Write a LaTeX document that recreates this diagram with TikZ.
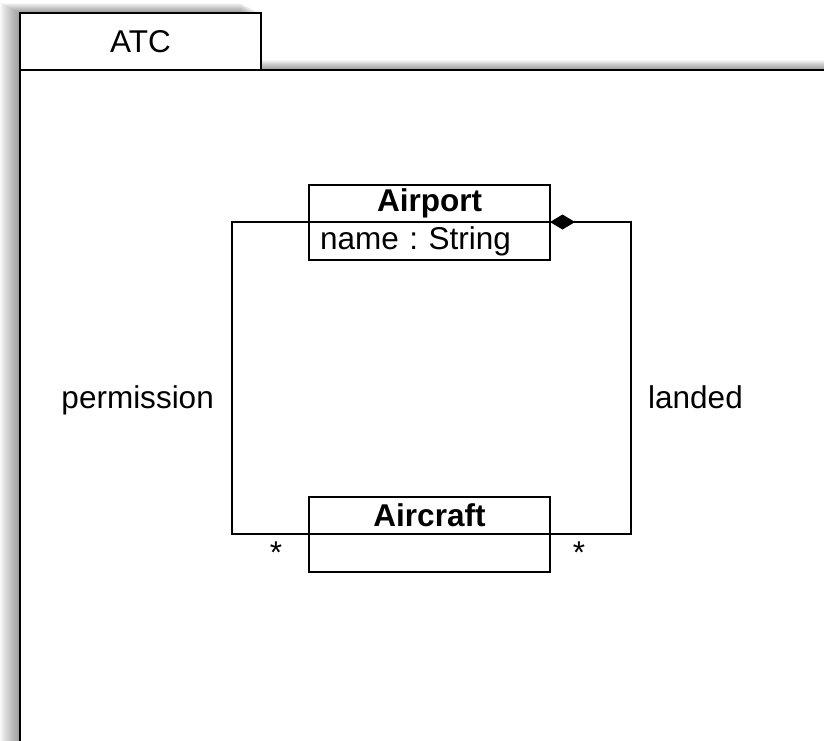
\documentclass[tikz,border=0pt]{standalone}
\usepackage{fontspec}
\setmainfont{Liberation Sans}
\usetikzlibrary{arrows.meta,positioning}

\begin{document}
\begin{tikzpicture}[
  x=1pt,y=-1pt,
  every node/.style={font=\fontsize{31.5}{36}\selectfont},
  pkgtab/.style={rectangle,draw,line width=2pt,fill=white,minimum width=241pt,minimum height=57pt,inner sep=0pt,outer sep=0pt},
  classhead/.style={rectangle,draw,line width=2pt,fill=white,minimum width=241pt,minimum height=37pt,inner sep=0pt,outer sep=0pt,font=\fontsize{31.5}{36}\selectfont\bfseries},
  classbody/.style={rectangle,draw,line width=2pt,fill=white,minimum width=241pt,minimum height=38pt,inner sep=0pt,outer sep=0pt,text width=219pt,align=left},
  assoc/.style={line width=2pt},
  rolelbl/.style={inner sep=0pt},
  mult/.style={inner sep=0pt,anchor=base}
]
\useasboundingbox (0,0) rectangle (824,740);

% soft shadow of the package frame
\foreach \s in {1,...,20}
  \fill[black,opacity=0.024] (20-\s,13-0.5*\s) -- (261-\s,13-0.5*\s) -- (261-\s,70-0.5*\s) -- (900,70-0.5*\s) -- (900,800) -- (20-\s,800) -- cycle;

% package frame
\draw[line width=2pt,fill=white] (20,70) rectangle (900,800);
\node[pkgtab,anchor=north west] (tab) at (20,13) {ATC};

% classes
\node[classhead] (airportHead) at (429.5,203.5) {Airport};
\node[classbody,below=0pt of airportHead] (airportBody) {\frenchspacing name : String};
\node[classhead] (aircraftHead) at (429.5,515.5) {Aircraft};
\node[classbody,below=0pt of aircraftHead] (aircraftBody) {};

% associations
\draw[assoc] (airportHead.south west) -- ++(-77,0) coordinate (permTop) |- (aircraftHead.south west);
\draw[assoc,{Diamond[length=25pt,width=15pt]}-] (airportHead.south east) -- ++(81,0) coordinate (landTop) |- (aircraftHead.south east);

\node[rolelbl,anchor=base east] (perm) at ([shift={(-18,186)}]permTop) {permission};
\node[rolelbl,anchor=base west] (land) at ([shift={(17,186)}]landTop) {landed};

\node[mult] (permMult) at ([shift={(-33,29)}]aircraftHead.south west) {*};
\node[mult] (landMult) at ([shift={(29,29)}]aircraftHead.south east) {*};
\end{tikzpicture}
\end{document}
